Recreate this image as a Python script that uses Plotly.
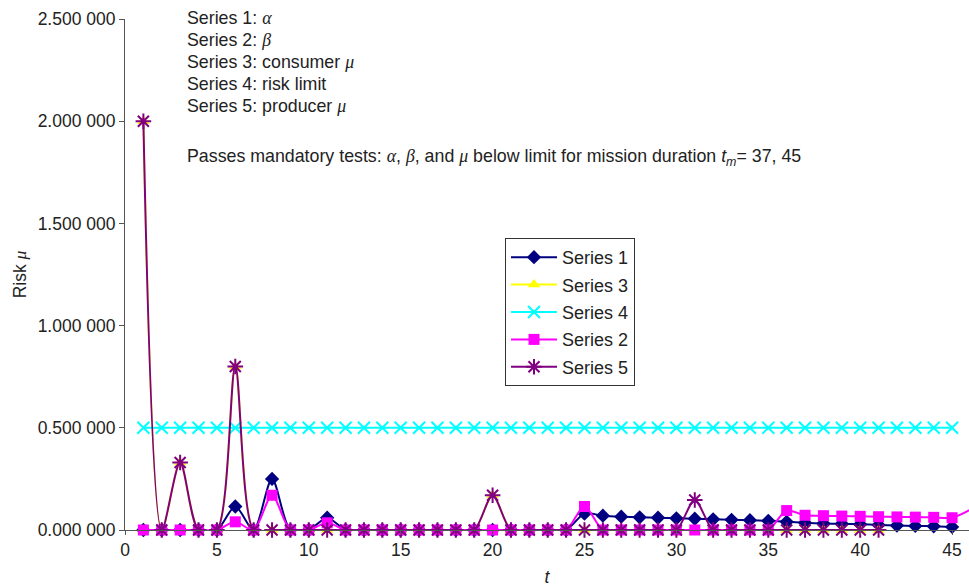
import plotly.graph_objects as go

# time steps
t = list(range(1, 47))

# Series 1: alpha (t = 1..45)
alpha = [0, 0, 0, 0, 0, 0.115, 0, 0.25, 0, 0, 0.06, 0, 0, 0, 0,
         0, 0, 0, 0, 0, 0, 0, 0, 0, 0.08, 0.07, 0.065, 0.062, 0.06, 0.057,
         0.055, 0.052, 0.05, 0.048, 0.045, 0.04, 0.035, 0.032, 0.03, 0.028,
         0.025, 0.022, 0.02, 0.018, 0.015]

# Series 2: beta (t = 1..46)
beta = [0, 0, 0, 0, 0, 0.04, 0, 0.17, 0, 0, 0.035, 0, 0, 0, 0,
        0, 0, 0, 0, 0, 0, 0, 0, 0, 0.115, 0, 0, 0, 0, 0,
        0, 0, 0, 0, 0, 0.095, 0.072, 0.07, 0.068, 0.067, 0.065, 0.064, 0.063,
        0.062, 0.06, 0.1]

# Series 3: consumer mu (t = 1..41)
consumer_mu = [2.0, 0, 0.33, 0, 0, 0.80, 0, 0, 0, 0, 0, 0, 0, 0, 0,
               0, 0, 0, 0, 0.17, 0, 0, 0, 0, 0, 0, 0, 0, 0, 0,
               0, 0, 0, 0, 0, 0, 0, 0, 0, 0, 0]

# Series 4: risk limit (t = 1..45)
risk_limit = [0.5] * 45

# Series 5: producer mu (t = 1..41)
producer_mu = [2.0, 0, 0.33, 0, 0, 0.80, 0, 0, 0, 0, 0, 0, 0, 0, 0,
               0, 0, 0, 0, 0.17, 0, 0, 0, 0, 0, 0, 0, 0, 0, 0,
               0.147, 0, 0, 0, 0, 0, 0, 0, 0, 0, 0]

y_ticks = [0, 0.5, 1.0, 1.5, 2.0, 2.5]
y_tick_labels = ["0.000 000", "0.500 000", "1.000 000", "1.500 000", "2.000 000", "2.500 000"]
x_ticks = [0, 5, 10, 15, 20, 25, 30, 35, 40, 45]

FONT = "Liberation Sans, Arial, sans-serif"
W, H = 969, 587
ML, MR, MT, MB = 125, 0, 19, 57


def px_to_paper_y(py):
    return (H - MB - py) / (H - MT - MB)


def px_to_paper_x(px):
    return (px - ML) / (W - ML - MR)


def greek(ch):
    return f'<span style="font-family:Liberation Serif, Times New Roman, serif"><i>{ch}</i></span>'


fig = go.Figure()

traces = [
    ("Series 1", alpha, "#000080", dict(symbol="diamond", size=11, color="#000080")),
    ("Series 3", consumer_mu, "#FFFF00", dict(symbol="triangle-up", size=11, color="#FFFF00")),
    ("Series 4", risk_limit, "#00FFFF", dict(symbol="x-thin-open", size=12,
                                             line=dict(color="#00FFFF", width=2))),
    ("Series 2", beta, "#FF00FF", dict(symbol="square", size=11, color="#FF00FF")),
    ("Series 5", producer_mu, "#800080", dict(symbol="asterisk-open", size=13,
                                              line=dict(color="#800080", width=2))),
]

for i, (name, vals, col, mk) in enumerate(traces):
    fig.add_trace(go.Scatter(
        x=t[:len(vals)], y=vals, name=name, mode="lines+markers",
        line=dict(color=col, width=2, shape="spline", smoothing=0.8),
        marker=mk, cliponaxis=False, legendgroup=f"g{i}",
    ))

notes = [
    (f"Series 1: {greek('α')}", 18),
    (f"Series 2: {greek('β')}", 40),
    (f"Series 3: consumer {greek('μ')}", 62),
    ("Series 4: risk limit", 84),
    (f"Series 5: producer {greek('μ')}", 106),
    (f"Passes mandatory tests: {greek('α')}, {greek('β')}, and {greek('μ')} below limit for mission duration "
     "<i>t</i><sub><i>m</i></sub>= 37, 45", 157),
]
annotations = [
    dict(text=txt, x=px_to_paper_x(185), y=px_to_paper_y(py), xref="paper", yref="paper",
         xanchor="left", yanchor="middle", showarrow=False,
         font=dict(family=FONT, size=17.8, color="#222"))
    for txt, py in notes
]

fig.update_layout(
    width=W, height=H,
    margin=dict(l=ML, r=MR, t=MT, b=MB, pad=0),
    paper_bgcolor="white", plot_bgcolor="white",
    font=dict(family=FONT, size=17.5, color="#222"),
    showlegend=True,
    legend=dict(
        x=px_to_paper_x(505), y=px_to_paper_y(238), xanchor="left", yanchor="top",
        bgcolor="white", bordercolor="#333", borderwidth=1,
        font=dict(family=FONT, size=18, color="#222"),
        traceorder="grouped", tracegroupgap=1, itemwidth=46,
    ),
    annotations=annotations,
    xaxis=dict(
        range=[0, 45.92], tickvals=x_ticks, showgrid=False, zeroline=False,
        showline=True, linecolor="#555", linewidth=1,
        ticks="outside", ticklen=4, tickcolor="#555",
        title=dict(text="<i>t</i>", font=dict(family=FONT, size=17.5), standoff=12),
        tickfont=dict(family=FONT, size=17.5),
    ),
    yaxis=dict(
        range=[0, 2.5], tickvals=y_ticks, ticktext=y_tick_labels, showgrid=False,
        zeroline=False, showline=True, linecolor="#555", linewidth=1,
        ticks="outside", ticklen=5, tickcolor="#555",
        title=dict(text=f"Risk {greek('μ')}", font=dict(family=FONT, size=17.5), standoff=6),
        tickfont=dict(family=FONT, size=17.5),
    ),
)

fig.write_html("out.html")
